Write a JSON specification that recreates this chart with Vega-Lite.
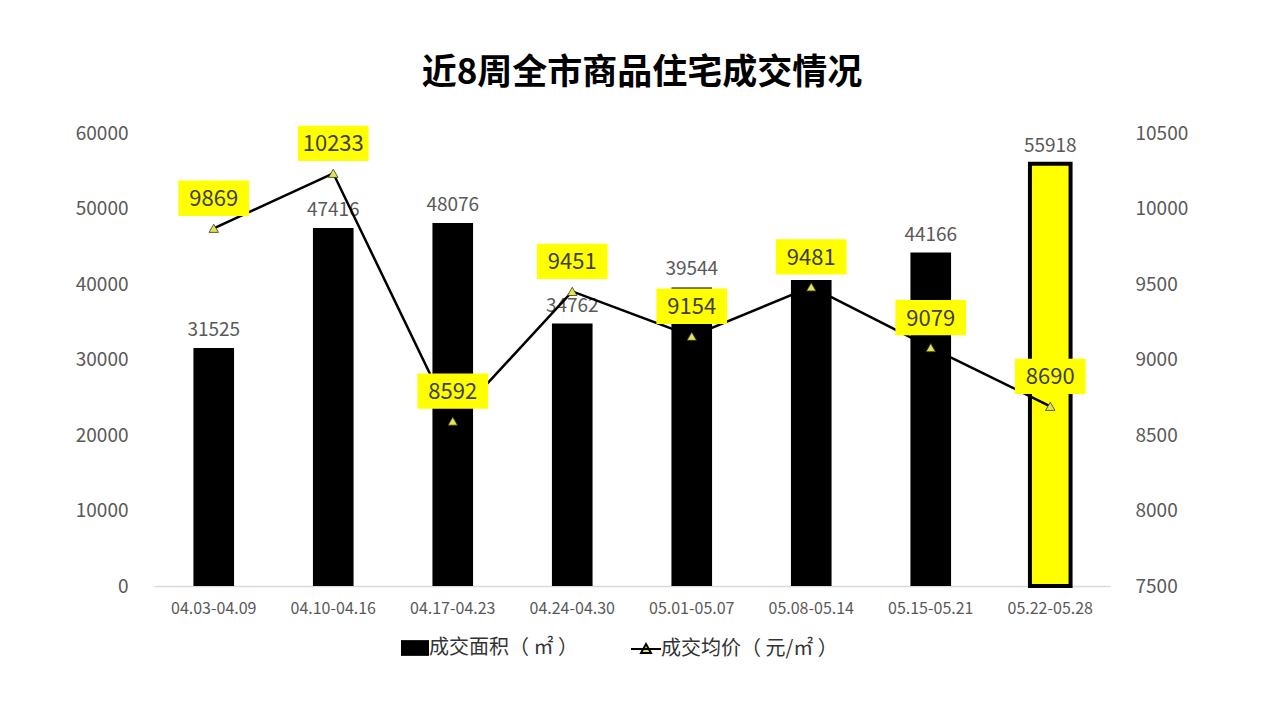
{
  "$schema": "https://vega.github.io/schema/vega-lite/v6.json",
  "autosize": {"type": "none"},
  "width": 956,
  "height": 453,
  "padding": {"left": 154, "top": 133, "right": 170, "bottom": 134},
  "background": "white",
  "title": {
    "text": "近8周全市商品住宅成交情况",
    "fontSize": 35,
    "fontWeight": "bold",
    "font": "Noto Sans CJK SC",
    "color": "#000000",
    "anchor": "middle",
    "dx": 10,
    "offset": 33
  },
  "config": {
    "view": {"stroke": null},
    "font": "Noto Sans CJK SC",
    "axis": {"grid": false, "ticks": false, "labelColor": "#595959", "labelFont": "Noto Sans CJK SC", "title": null},
    "legend": {"labelFont": "Noto Sans CJK SC", "labelFontSize": 20, "labelColor": "#333333", "title": null, "orient": "none", "direction": "horizontal", "labelLimit": 400}
  },
  "data": {
    "values": [
      {"week": "04.03-04.09", "area": 31525, "price": 9869, "type": "past"},
      {"week": "04.10-04.16", "area": 47416, "price": 10233, "type": "past"},
      {"week": "04.17-04.23", "area": 48076, "price": 8592, "type": "past"},
      {"week": "04.24-04.30", "area": 34762, "price": 9451, "type": "past"},
      {"week": "05.01-05.07", "area": 39544, "price": 9154, "type": "past"},
      {"week": "05.08-05.14", "area": 40531, "price": 9481, "type": "past"},
      {"week": "05.15-05.21", "area": 44166, "price": 9079, "type": "past"},
      {"week": "05.22-05.28", "area": 55918, "price": 8690, "type": "current"}
    ]
  },
  "encoding": {
    "x": {
      "field": "week", "type": "nominal", "sort": null,
      "scale": {"paddingInner": 0.66, "paddingOuter": 0.33},
      "axis": {"labelAngle": 0, "labelFontSize": 16, "labelPadding": 14, "domain": true, "domainColor": "#d9d9d9", "domainWidth": 1.5}
    }
  },
  "layer": [
    {
      "layer": [
        {
          "mark": {"type": "bar", "stroke": "#000000"},
          "encoding": {
            "y": {"field": "area", "type": "quantitative", "scale": {"domain": [0, 60000], "nice": false},
              "axis": {"values": [0, 10000, 20000, 30000, 40000, 50000, 60000], "format": "d", "labelFontSize": 19, "labelPadding": 26, "domain": false}},
            "color": {"field": "type", "type": "nominal",
              "scale": {"domain": ["past", "current"], "range": ["#000000", "#ffff00"]},
              "legend": {"values": ["past"], "labelExpr": "'成交面积（ ㎡ ）'", "symbolType": "M-1.6,-0.9H1.6V0.9H-1.6Z", "symbolSize": 306, "symbolStrokeWidth": 0, "legendX": 251, "legendY": 505}},
            "strokeWidth": {"condition": {"test": "datum.type === 'current'", "value": 4}, "value": 0}
          }
        },
        {
          "mark": {"type": "text", "baseline": "bottom", "dy": -8, "fontSize": 19, "color": "#595959"},
          "encoding": {
            "y": {"field": "area", "type": "quantitative"},
            "text": {"field": "area", "type": "quantitative", "format": "d"}
          }
        }
      ]
    },
    {
      "layer": [
        {
          "mark": {"type": "line", "strokeWidth": 2.5},
          "encoding": {
            "y": {"field": "price", "type": "quantitative", "scale": {"domain": [7500, 10500], "nice": false, "zero": false},
              "axis": {"orient": "right", "values": [7500, 8000, 8500, 9000, 9500, 10000, 10500], "format": "d", "labelFontSize": 19, "labelPadding": 25, "domain": false}},
            "stroke": {"datum": "成交均价（ 元/㎡ ）", "scale": {"range": ["#000000"]},
              "legend": {"symbolType": "M-1.5,0H1.5M0,-0.5L0.5,0.4L-0.5,0.4Z", "symbolSize": 400, "symbolStrokeWidth": 2, "legendX": 481, "legendY": 505,
                "encode": {"symbols": {"update": {"fill": {"value": "#e2e25c"}}}}}}
          }
        },
        {
          "mark": {"type": "point", "shape": "triangle-up", "filled": true, "size": 90, "fill": "#e2e25c", "stroke": "#3a3a00", "strokeWidth": 0.8, "opacity": 1},
          "encoding": {"y": {"field": "price", "type": "quantitative"}}
        },
        {
          "mark": {"type": "point", "shape": "M-1,-0.5H1V0.5H-1Z", "filled": true, "size": 5000, "fill": "#ffff00", "opacity": 1, "yOffset": -30},
          "encoding": {"y": {"field": "price", "type": "quantitative"}}
        },
        {
          "mark": {"type": "text", "fontSize": 22, "color": "#404040", "baseline": "middle", "yOffset": -29},
          "encoding": {
            "y": {"field": "price", "type": "quantitative"},
            "text": {"field": "price", "type": "quantitative", "format": "d"}
          }
        }
      ]
    }
  ],
  "resolve": {"scale": {"y": "independent"}}
}
